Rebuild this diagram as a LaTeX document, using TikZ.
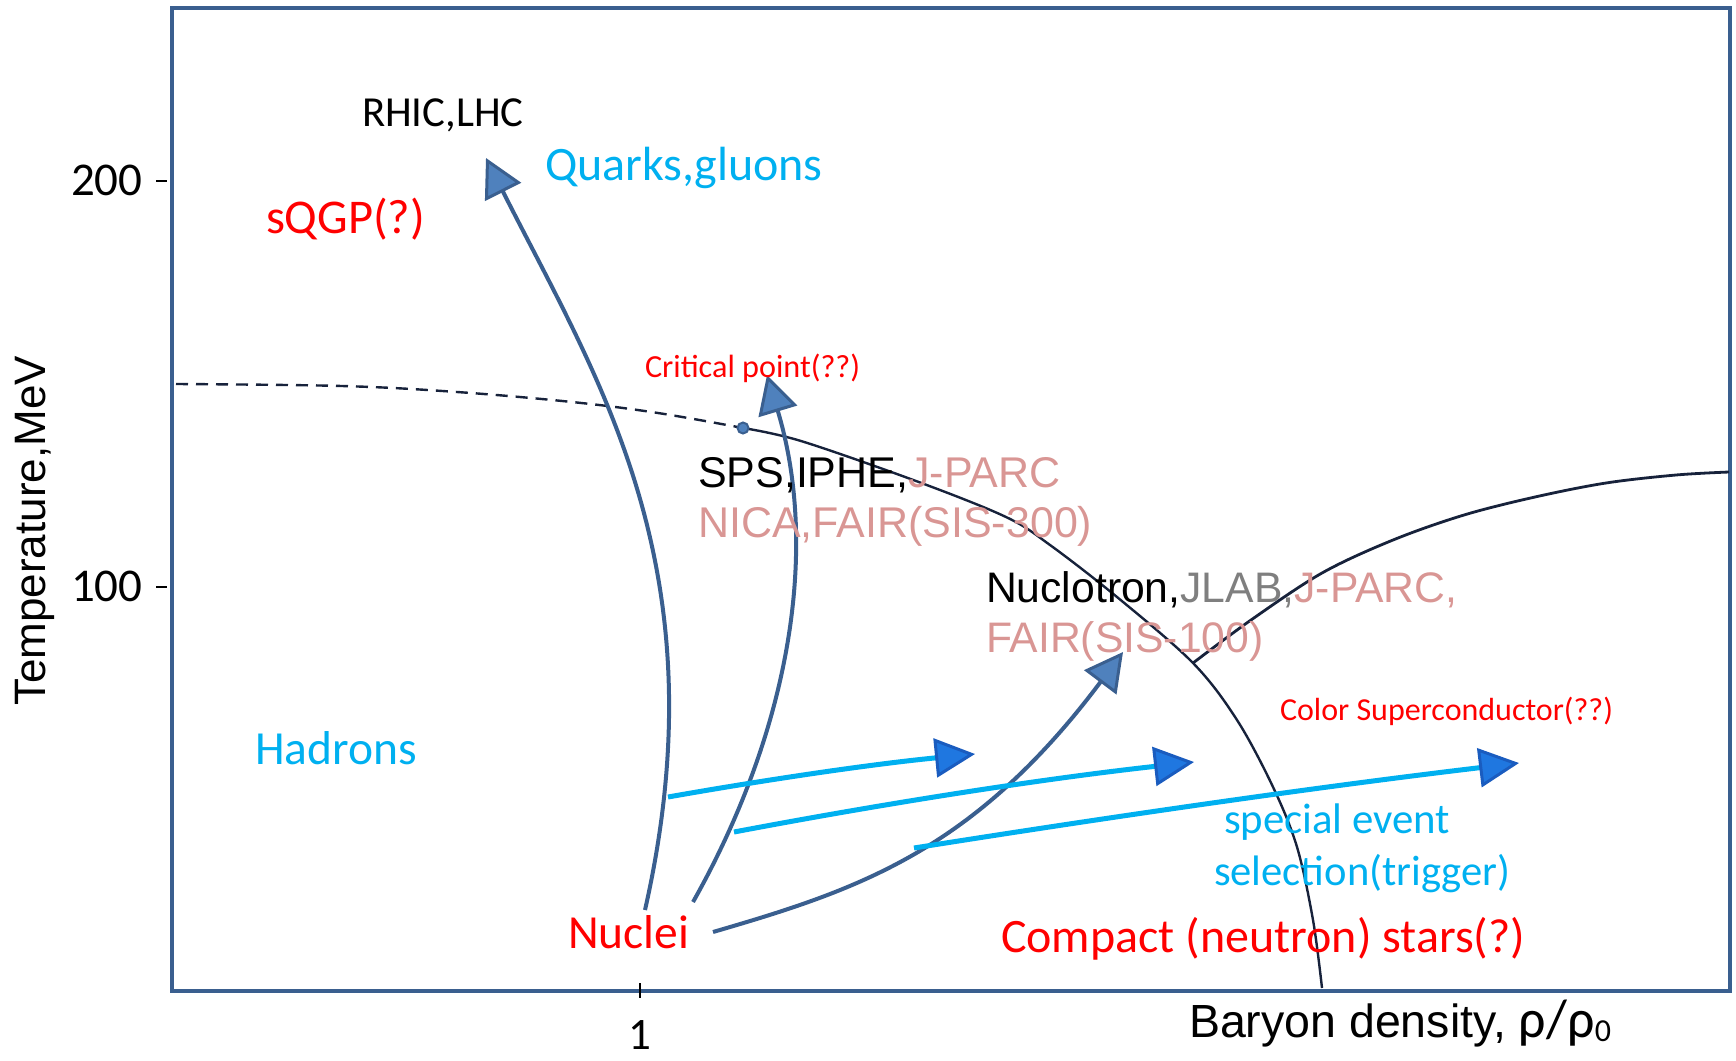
\documentclass[tikz,border=0pt]{standalone}
\usepackage{fontspec}
\setmainfont{Carlito}
\newfontfamily\arialf{Liberation Sans}
\usetikzlibrary{arrows.meta}
\definecolor{qcyan}{HTML}{00B0F0}
\definecolor{qred}{HTML}{FF0000}
\definecolor{qpink}{HTML}{D99694}
\definecolor{qgray}{HTML}{7F7F7F}
\definecolor{frameblue}{HTML}{3A5F8F}
\definecolor{tipfill}{HTML}{4F81BD}
\definecolor{darkline}{HTML}{17223B}
\definecolor{cyanfill}{HTML}{1F77E0}
\definecolor{cyanedge}{HTML}{1A5CBF}
\newcommand\fsz[1]{\fontsize{#1}{#1}\selectfont}
\begin{document}
\begin{tikzpicture}[x=1pt,y=-1pt,
  lbl/.style={inner sep=0pt, outer sep=0pt, anchor=base west},
  frameline/.style={draw=frameblue, line width=4pt},
  phase/.style={draw=darkline, line width=2.4pt},
  tickline/.style={draw=black, line width=2.6pt},
  bluearrow/.style={draw=frameblue, line width=4pt,
    -{Triangle[length=38pt,width=40pt,fill=tipfill,line width=3pt]}},
  cyanarrow/.style={draw=qcyan, line width=5pt,
    -{Triangle[length=40pt,width=39pt,fill=cyanfill,color=cyanedge,line width=3pt]}}
]
\useasboundingbox (0,0) rectangle (1736,1060);
% frame
\draw[frameline] (172,7.5) rectangle (1730,991);
% ticks
\draw[tickline] (156,181) -- (167,181);
\draw[tickline] (156,587) -- (167,587);
\draw[tickline] (640,983) -- (640,998);
% phase boundaries
\draw[phase, dash pattern=on 12pt off 8pt] plot[smooth, tension=0.6] coordinates
  {(176,384) (342,386) (457,392) (572,402) (658,413) (743,428)};
\draw[phase] plot[smooth, tension=0.55] coordinates
  {(743,428) (801,441) (916,481) (1006,517) (1050,545) (1117,597) (1193,663)
   (1237,720) (1273,787) (1297,847) (1313,920) (1322,988)};
\draw[phase, line width=2.8pt] plot[smooth, tension=0.55] coordinates
  {(1193,663) (1251,620) (1322,573) (1393,540) (1464,515) (1535,497) (1606,483) (1676,475) (1729,472)};
% critical point
\node[circle, fill=tipfill, draw=frameblue, line width=2pt, minimum size=11pt, inner sep=0pt] (cp) at (743,428) {};
% arrow coordinates
\coordinate (sA) at (645,910);  \coordinate (tA) at (486,158);
\coordinate (sB) at (693,902);  \coordinate (tB) at (767,375);
\coordinate (sC) at (713,932);  \coordinate (tC) at (1123,652);
\coordinate (s1) at (668,797);  \coordinate (t1) at (975,754);
\coordinate (s2) at (734,832);  \coordinate (t2) at (1194,762);
\coordinate (s3) at (914,848);  \coordinate (t3) at (1519,763);
% blue arrows
\draw[bluearrow] (sA) .. controls (722,569) and (598,380) .. (tA);
\draw[bluearrow] (sB) .. controls (791,728) and (819,548) .. (tB);
\draw[bluearrow] (sC) .. controls (857,890) and (973,852) .. (tC);
% cyan arrows
\draw[cyanarrow] (s1) .. controls (770,779) and (873,764) .. (t1);
\draw[cyanarrow] (s2) .. controls (887,803) and (1041,779) .. (t2);
\draw[cyanarrow] (s3) .. controls (1116,816) and (1317,787) .. (t3);
% labels
\node[lbl] (rhic) at (362,126) {\fsz{42.8}RHIC,LHC};
\node[lbl, text=qcyan] (quarks) at (545,180) {\fsz{48}Quarks,gluons};
\node[lbl, text=qred] (sqgp) at (266,233) {\fsz{48.5}sQGP(?)};
\node[lbl, text=qred] (crit) at (645,377) {\fsz{32.2}Critical point(??)};
\node[lbl] (sps) at (698,487) {\arialf\fsz{43}SPS,IPHE,\textcolor{qpink}{J-PARC}};
\node[lbl, text=qpink] (nica) at (698,537) {\arialf\fsz{43}NICA,FAIR(SIS-300)};
\node[lbl] (nuclo) at (986,602) {\arialf\fsz{42.7}Nuclotron,\textcolor{qgray}{JLAB,}\textcolor{qpink}{J-PARC,}};
\node[lbl, text=qpink] (fair) at (986,652) {\arialf\fsz{42.7}FAIR(SIS-100)};
\node[lbl, text=qred] (color) at (1280,720) {\fsz{32}Color Superconductor(??)};
\node[lbl, text=qcyan] (hadrons) at (255,764) {\fsz{47.5}Hadrons};
\node[lbl, text=qcyan] (special) at (1224,833) {\fsz{42.8}special event};
\node[lbl, text=qcyan] (selection) at (1214,885) {\fsz{42.6}selection(trigger)};
\node[lbl, text=qred] (nuclei) at (568,948) {\fsz{47.5}Nuclei};
\node[lbl, text=qred] (compact) at (1001,952) {\fsz{48}Compact (neutron) stars(?)};
\node[lbl] (baryon) at (1189,1037) {\arialf\fsz{46.5}Baryon density, {\rmfamily\fsz{54}ρ/ρ\raisebox{-4pt}{\fsz{32}0}}};
\node[inner sep=0pt, anchor=base, rotate=90] (temp) at (45,531) {\arialf\fsz{44}Temperature,MeV};
\node[lbl] (y200) at (71,195) {\fsz{47}200};
\node[lbl] (y100) at (71,601) {\fsz{47}100};
\node[inner sep=0pt, anchor=base] (x1) at (640,1049) {\fsz{45}1};
\end{tikzpicture}
\end{document}
